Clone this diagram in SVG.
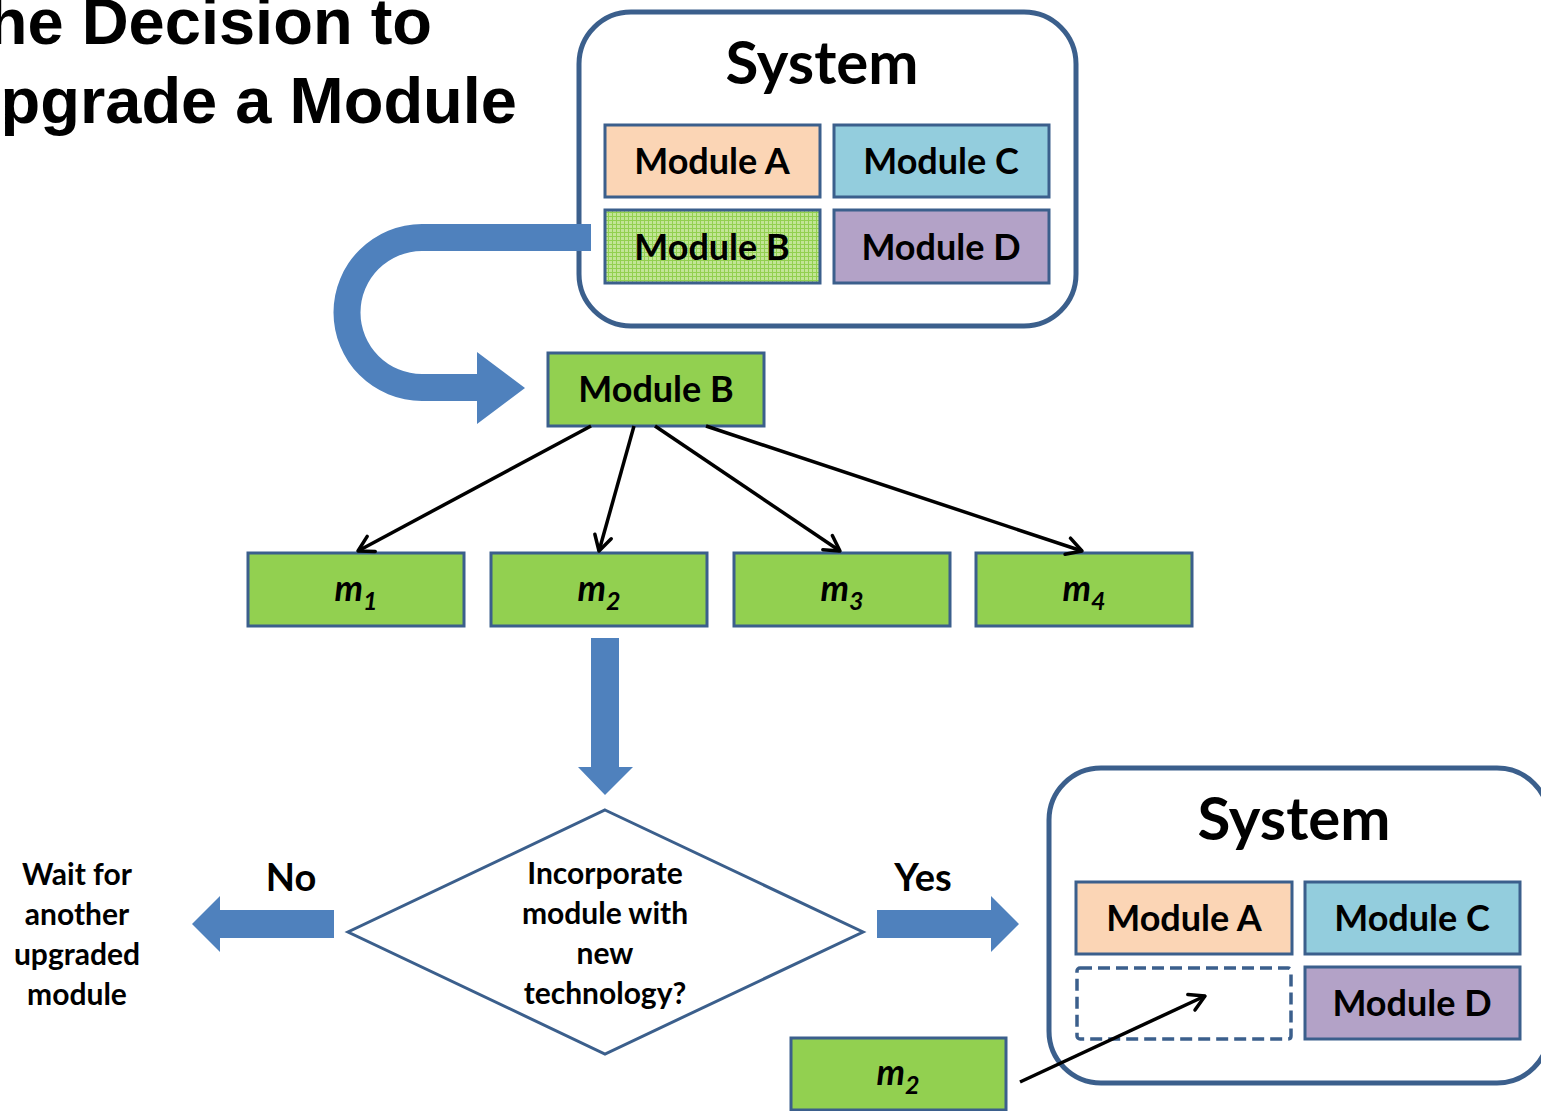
<svg xmlns="http://www.w3.org/2000/svg" width="1541" height="1111" viewBox="0 0 1541 1111">
  <style>
    .title { font-family: "Liberation Sans", Arial, sans-serif; font-weight: bold; font-size: 65px; fill: #000; }
    .sys { fill: #fff; stroke: #3b5f8c; stroke-width: 5; }
    .sysLabel { font-family: Lato, "Open Sans", sans-serif; font-weight: bold; font-size: 60px; text-anchor: middle; fill: #000; }
    .box { stroke: #3b5f8c; stroke-width: 3; }
    .lbl { font-family: Lato, "Open Sans", sans-serif; font-weight: bold; font-size: 36px; text-anchor: middle; fill: #000; }
    .mlbl { font-family: Lato, "Open Sans", sans-serif; font-weight: bold; font-style: italic; font-size: 36px; text-anchor: middle; fill: #000; }
    .txt { font-family: Lato, "Open Sans", sans-serif; font-weight: bold; font-size: 30px; text-anchor: middle; fill: #000; }
    .yn { font-family: Lato, "Open Sans", sans-serif; font-weight: bold; font-size: 38px; text-anchor: middle; fill: #000; }
    .peach { fill: #fbd5b5; }
    .cyan { fill: #93cddd; }
    .violet { fill: #b3a2c7; }
    .green { fill: #92d050; }
    .bigArrow { fill: #4f81bd; }
    .link { stroke: #000; stroke-width: 3.5; fill: none; marker-end: url(#open); }
  </style>
  <defs>
    <marker id="open" viewBox="-18 -11 20 22" markerWidth="20" markerHeight="22" markerUnits="userSpaceOnUse" refX="0" refY="0" orient="auto">
      <path d="M -15 -8.5 L 0 0 L -15 8.5" fill="none" stroke="#000" stroke-width="3.5" stroke-linecap="round" stroke-linejoin="round"/>
    </marker>
    <pattern id="grid" width="4" height="4" patternUnits="userSpaceOnUse">
      <rect width="4" height="4" fill="#c2e596"/>
      <path d="M 0 0.5 H 4 M 0.5 0 V 4" stroke="#92d050" stroke-width="1"/>
    </pattern>
  </defs>

  <!-- heading -->
  <g id="title">
    <text class="title" x="432" y="44" text-anchor="end">The Decision to</text>
    <text class="title" x="517" y="123" text-anchor="end">Upgrade a Module</text>
  </g>

  <!-- current system -->
  <g id="system-top">
    <rect class="sys" x="579" y="12" width="497" height="314" rx="52"/>
    <text class="sysLabel" x="822" y="84">System</text>
    <g id="top-module-a">
      <rect class="box peach" x="605" y="125" width="215" height="72"/>
      <text class="lbl" x="712" y="174">Module A</text>
    </g>
    <g id="top-module-c">
      <rect class="box cyan" x="834" y="125" width="215" height="72"/>
      <text class="lbl" x="941" y="174">Module C</text>
    </g>
    <g id="top-module-b">
      <rect class="box" fill="url(#grid)" x="605" y="210" width="215" height="73"/>
      <text class="lbl" x="712" y="260">Module B</text>
    </g>
    <g id="top-module-d">
      <rect class="box violet" x="834" y="210" width="215" height="73"/>
      <text class="lbl" x="941" y="260">Module D</text>
    </g>
  </g>

  <!-- curved block arrow pulling Module B out -->
  <g id="extract-arrow">
    <path class="bigArrow" d="M 591 224 L 422 224 A 88.5 88.5 0 0 0 422 401 L 477 401 L 477 424 L 525 388 L 477 352 L 477 374 L 422 374 A 61.5 61.5 0 0 1 422 251 L 591 251 Z"/>
  </g>

  <g id="module-b">
    <rect class="box green" x="548" y="353" width="216" height="73"/>
    <text class="lbl" x="656" y="402">Module B</text>
  </g>

  <g id="m1">
    <rect class="box green" x="248" y="553" width="216" height="73"/>
    <text class="mlbl" x="356" y="601">m<tspan font-size="25" dy="9">1</tspan></text>
  </g>
  <g id="m2">
    <rect class="box green" x="491" y="553" width="216" height="73"/>
    <text class="mlbl" x="599" y="601">m<tspan font-size="25" dy="9">2</tspan></text>
  </g>
  <g id="m3">
    <rect class="box green" x="734" y="553" width="216" height="73"/>
    <text class="mlbl" x="842" y="601">m<tspan font-size="25" dy="9">3</tspan></text>
  </g>
  <g id="m4">
    <rect class="box green" x="976" y="553" width="216" height="73"/>
    <text class="mlbl" x="1084" y="601">m<tspan font-size="25" dy="9">4</tspan></text>
  </g>

  <g id="decision">
    <polygon points="605,810 863,932 605,1054 348,932" fill="#fff" stroke="#3b5f8c" stroke-width="3"/>
    <text class="txt" x="605" y="884">Incorporate</text>
    <text class="txt" x="605" y="924">module with</text>
    <text class="txt" x="605" y="964">new</text>
    <text class="txt" x="605" y="1004">technology?</text>
  </g>

  <g id="wait">
    <text class="txt" x="77" y="885">Wait for</text>
    <text class="txt" x="77" y="925">another</text>
    <text class="txt" x="77" y="965">upgraded</text>
    <text class="txt" x="77" y="1005">module</text>
  </g>

  <!-- upgraded system -->
  <g id="system-bottom">
    <rect class="sys" x="1049" y="768" width="500" height="315" rx="52"/>
    <text class="sysLabel" x="1294" y="840">System</text>
    <g id="bottom-module-a">
      <rect class="box peach" x="1076" y="882" width="216" height="72"/>
      <text class="lbl" x="1184" y="931">Module A</text>
    </g>
    <g id="bottom-module-c">
      <rect class="box cyan" x="1305" y="882" width="215" height="72"/>
      <text class="lbl" x="1412" y="931">Module C</text>
    </g>
    <g id="empty-slot">
      <rect x="1077" y="968" width="214" height="71" rx="3" fill="none" stroke="#3b5f8c" stroke-width="3.5" stroke-dasharray="12 6"/>
    </g>
    <g id="bottom-module-d">
      <rect class="box violet" x="1305" y="967" width="215" height="72"/>
      <text class="lbl" x="1412" y="1016">Module D</text>
    </g>
  </g>

  <g id="m2-new">
    <rect class="box green" x="791" y="1038" width="215" height="72"/>
    <text class="mlbl" x="898" y="1085">m<tspan font-size="25" dy="9">2</tspan></text>
  </g>

  <!-- connectors -->
  <g id="connectors">
    <line class="link" x1="591" y1="426" x2="358" y2="551"/>
    <line class="link" x1="634" y1="426" x2="599" y2="551"/>
    <line class="link" x1="655" y1="426" x2="840" y2="551"/>
    <line class="link" x1="706" y1="426" x2="1082" y2="551"/>
    <line class="link" x1="1020" y1="1082" x2="1205" y2="996"/>
    <!-- block arrows -->
    <polygon class="bigArrow" points="591,638 619,638 619,767 633,767 605,795 578,767 591,767"/>
    <polygon class="bigArrow" points="334,910 220,910 220,896 192,924 220,952 220,938 334,938"/>
    <polygon class="bigArrow" points="877,910 991,910 991,896 1019,924 991,952 991,938 877,938"/>
    <text class="yn" x="291" y="891">No</text>
    <text class="yn" x="923" y="891">Yes</text>
  </g>
</svg>
